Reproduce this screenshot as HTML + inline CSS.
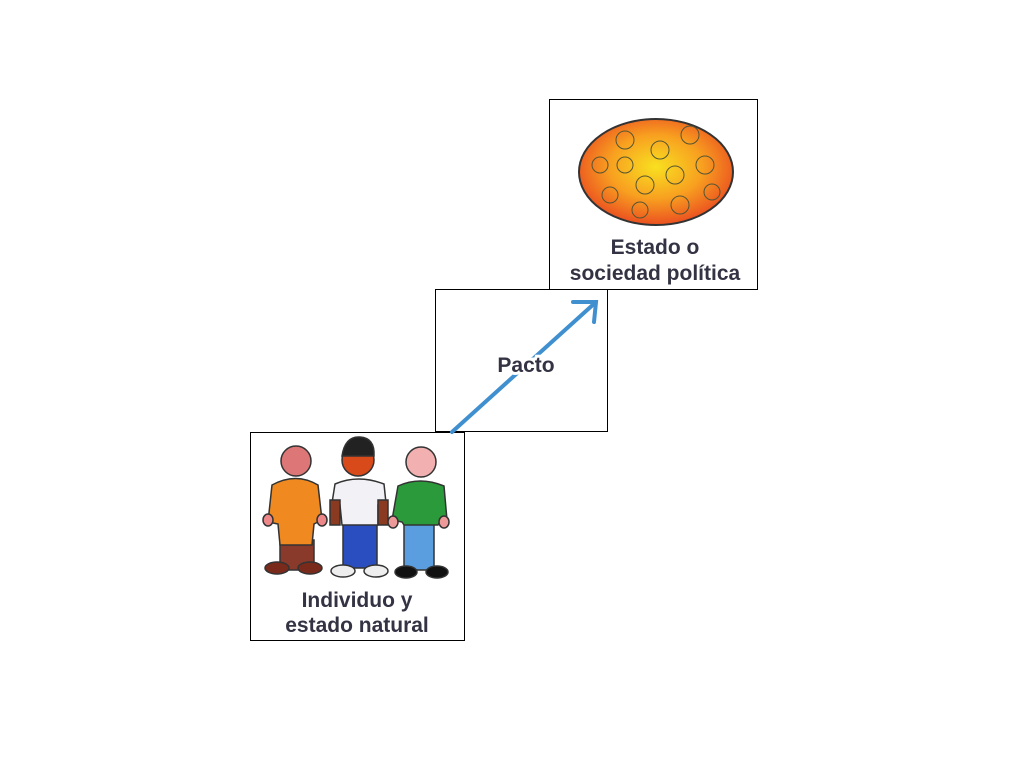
<!DOCTYPE html>
<html><head><meta charset="utf-8"><style>
body{margin:0;width:1024px;height:768px;background:#fff;overflow:hidden;font-family:"Liberation Sans",sans-serif}
</style></head><body>
<svg width="1024" height="768">
<g>
<rect x="250.5" y="432.5" width="214" height="208" fill="#fff" stroke="#000" stroke-width="1"/>
<g stroke="#333" stroke-width="1.5">
<rect x="280" y="540" width="34" height="30" fill="#8a3a2a"/>
<ellipse cx="277" cy="568" rx="12" ry="6" fill="#7a2a1a"/>
<ellipse cx="310" cy="568" rx="12" ry="6" fill="#7a2a1a"/>
<path d="M272 485 Q296 472 318 485 L322 520 L314 524 L312 545 L280 545 L278 524 L268 522 Z" fill="#f08a20"/>
<ellipse cx="268" cy="520" rx="5" ry="6" fill="#e88"/>
<ellipse cx="322" cy="520" rx="5" ry="6" fill="#e88"/>
<circle cx="296" cy="461" r="15" fill="#d77"/>
</g>
<g stroke="#333" stroke-width="1.5">
<rect x="343" y="520" width="34" height="48" fill="#2a4ec0"/>
<ellipse cx="343" cy="571" rx="12" ry="6" fill="#eee"/>
<ellipse cx="376" cy="571" rx="12" ry="6" fill="#eee"/>
<path d="M335 484 Q358 474 384 484 L386 503 L378 505 L378 525 L342 525 L340 505 L332 503 Z" fill="#f2f2f6"/>
<rect x="330" y="500" width="10" height="25" fill="#8a3a20"/>
<rect x="378" y="500" width="10" height="25" fill="#8a3a20"/>
<circle cx="358" cy="460" r="16" fill="#d84a1a"/>
<path d="M342 456 Q345 436 360 437 Q375 438 374 456 Z" fill="#222"/>
</g>
<g stroke="#333" stroke-width="1.5">
<rect x="404" y="520" width="30" height="50" fill="#5a9ee0"/>
<ellipse cx="406" cy="572" rx="11" ry="6" fill="#111"/>
<ellipse cx="437" cy="572" rx="11" ry="6" fill="#111"/>
<path d="M398 486 Q420 476 444 486 L447 520 L440 522 L438 525 L404 525 L402 522 L392 520 Z" fill="#2a9a3a"/>
<ellipse cx="393" cy="522" rx="5" ry="6" fill="#e99"/>
<ellipse cx="444" cy="522" rx="5" ry="6" fill="#e99"/>
<circle cx="421" cy="462" r="15" fill="#f2b0b0"/>
</g>
<text x="357" y="607" font-size="21" font-weight="bold" fill="#333344" text-anchor="middle">Individuo y</text>
<text x="357" y="632" font-size="21" font-weight="bold" fill="#333344" text-anchor="middle">estado natural</text>
</g>
<g>
<rect x="435.5" y="289.5" width="172" height="142" fill="#fff" stroke="#000" stroke-width="1"/>
</g>
<g>
<rect x="549.5" y="99.5" width="208" height="190" fill="#fff" stroke="#000" stroke-width="1"/>
<defs><radialGradient id="g" cx="0.5" cy="0.45" r="0.6"><stop offset="0" stop-color="#f8e020"/><stop offset="0.5" stop-color="#f8a020"/><stop offset="1" stop-color="#e84020"/></radialGradient></defs>
<ellipse cx="656" cy="172" rx="77" ry="53" fill="url(#g)" stroke="#333" stroke-width="2"/>
<g fill="none" stroke="#553" stroke-width="1">
<circle cx="625" cy="140" r="9"/><circle cx="660" cy="150" r="9"/><circle cx="690" cy="135" r="9"/><circle cx="600" cy="165" r="8"/>
<circle cx="625" cy="165" r="8"/><circle cx="645" cy="185" r="9"/><circle cx="675" cy="175" r="9"/><circle cx="705" cy="165" r="9"/>
<circle cx="610" cy="195" r="8"/><circle cx="640" cy="210" r="8"/><circle cx="680" cy="205" r="9"/><circle cx="712" cy="192" r="8"/>
</g>
<text x="655" y="254" font-size="21" font-weight="bold" fill="#333344" text-anchor="middle">Estado o</text>
<text x="655" y="280" font-size="21" font-weight="bold" fill="#333344" text-anchor="middle">sociedad política</text>
</g>
<g stroke="#4090d0" stroke-width="4" fill="none" stroke-linecap="round">
<line x1="452" y1="432" x2="596" y2="302"/>
<polyline points="573,302 596,302 594,322"/>
</g>
<text x="526" y="372" font-size="21" font-weight="bold" fill="#333344" stroke="#fff" stroke-width="6" paint-order="stroke" text-anchor="middle">Pacto</text>
</svg>
</body></html>
